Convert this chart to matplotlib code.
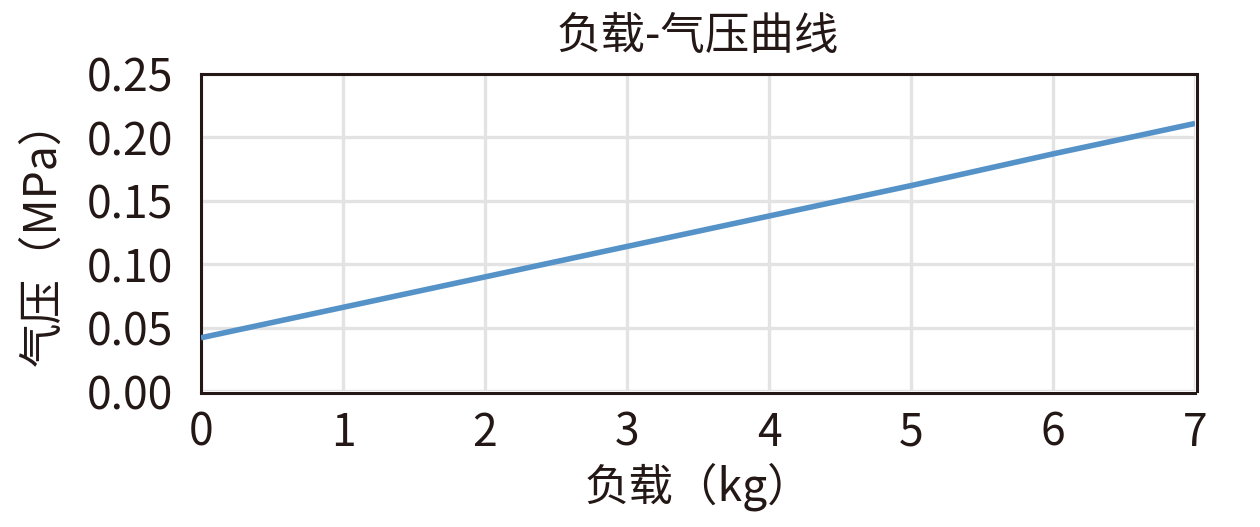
import numpy as np
import matplotlib
matplotlib.use("Agg")
import matplotlib.pyplot as plt

plt.rcParams['font.family'] = ['Noto Sans CJK SC', 'DejaVu Sans']

# data
load_kg = [0, 1, 2, 3, 4, 5, 6, 7]
pressure_mpa = [0.042, 0.066, 0.090, 0.114, 0.138, 0.162, 0.187, 0.211]
x_ticks = [0, 1, 2, 3, 4, 5, 6, 7]
y_ticks = [0.00, 0.05, 0.10, 0.15, 0.20, 0.25]

txt = '#231815'

fig = plt.figure(figsize=(12.6, 5.27), dpi=100)
ax = fig.add_axes([0.1595, 0.258, 0.789, 0.6016])

ax.plot(load_kg, pressure_mpa, color='#5592c8', lw=4.0, solid_capstyle='butt',
        zorder=3)

ax.set_xlim(0, 7)
ax.set_ylim(0, 0.25)
ax.set_xticks(x_ticks)
ax.set_yticks(y_ticks)
ax.set_yticklabels(['%.2f' % v for v in y_ticks])
ax.grid(True, color='#e3e3e3', lw=2.4, zorder=0)
ax.set_axisbelow(True)
ax.tick_params(length=0, labelsize=32, colors=txt)
ax.tick_params(axis='y', pad=20)
ax.tick_params(axis='x', pad=12)

for s in ax.spines.values():
    s.set_color(txt)
    s.set_linewidth(2.2)
# the reference shows the edge gridlines peeking just inside the frame
ax.spines['bottom'].set_position(('outward', 1.5))
ax.spines['right'].set_position(('outward', 1.5))

ax.set_title('负载-气压曲线', fontsize=32, color=txt, pad=18)
ax.set_xlabel('负载（kg）', fontsize=32, color=txt, labelpad=5)
ax.set_ylabel('气压（MPa）', fontsize=32, color=txt, labelpad=15)

fig.savefig('out.png', dpi=100)
